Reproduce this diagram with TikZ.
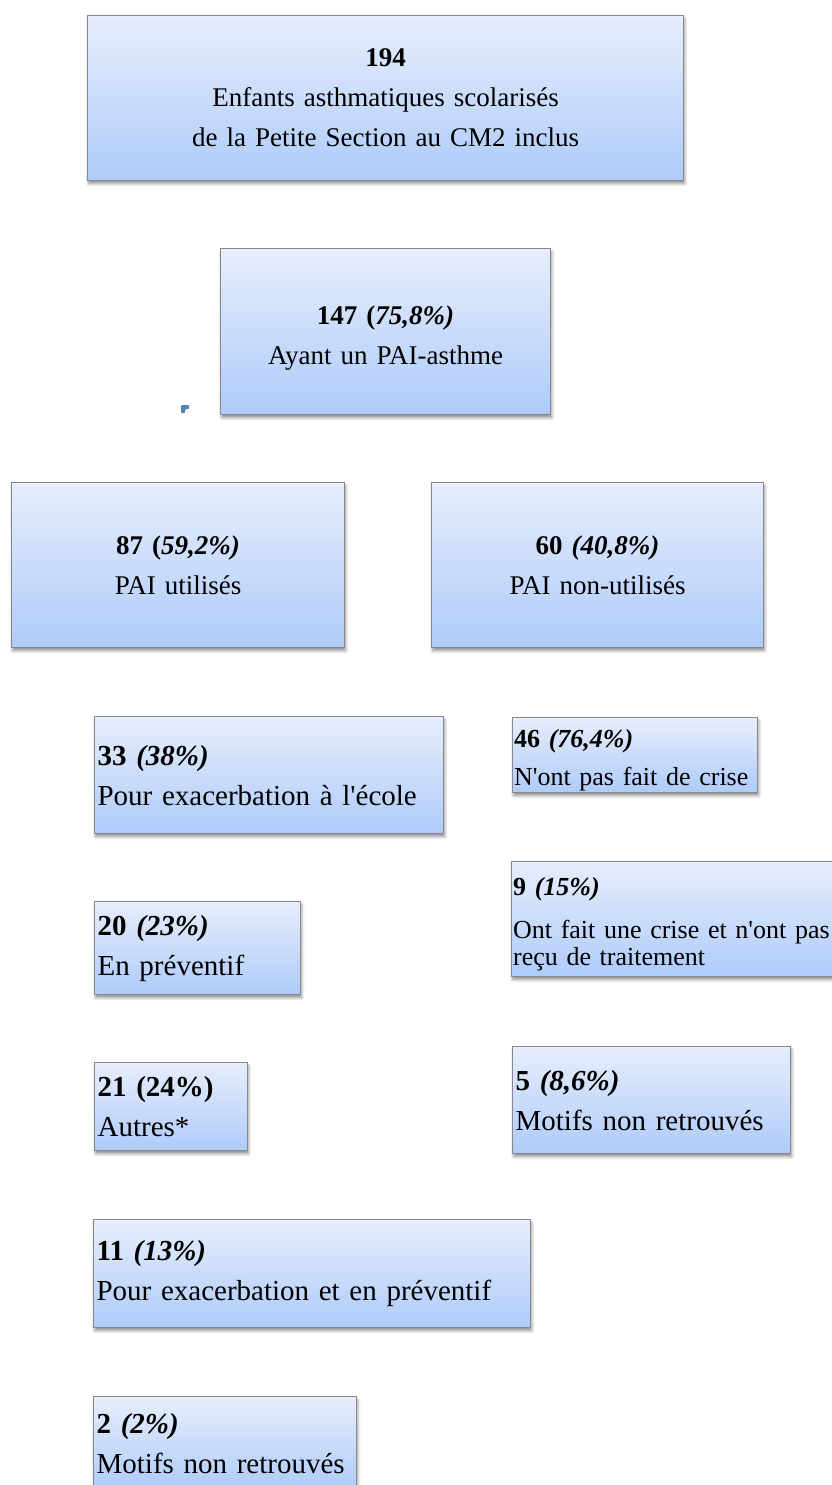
\documentclass[tikz,border=0pt]{standalone}
\usepackage{fontspec}
\setmainfont{Liberation Serif}
\usepackage{tikz}
\usetikzlibrary{shadows.blur}

\definecolor{boxtop}{RGB}{231,238,252}
\definecolor{boxbot}{RGB}{174,203,250}
\definecolor{boxline}{RGB}{135,135,140}
\definecolor{markblue}{RGB}{79,129,189}

\begin{document}
\begin{tikzpicture}[x=1pt, y=-1pt,
    box/.style={draw=boxline, line width=1.2pt, top color=boxtop, bottom color=boxbot,
        blur shadow={shadow xshift=1pt, shadow yshift=-3pt, shadow blur radius=3pt, shadow opacity=45},
        anchor=north west, inner xsep=3pt, inner ysep=0pt},
    headbox/.style={box, align=center, font=\fontsize{27}{40}\selectfont},
    subbox/.style={box, align=left, font=\fontsize{29}{40}\selectfont}]
    \useasboundingbox (0,0) rectangle (832,1485);

    % Top of the flow
    \node[headbox, text width=590pt, minimum height=165pt] (total) at (87,15)
        {\textbf{194}\\Enfants asthmatiques scolarisés\\de la Petite Section au CM2 inclus};
    \node[headbox, text width=324pt, minimum height=166pt, text depth=32pt] (pai) at (220,248)
        {\textbf{147 (\textit{75,8\%)}}\\Ayant un PAI-asthme};
    \fill[markblue, rounded corners=1pt] (181,405) -- (189,405) -- (189,409) -- (185,409) -- (185,413) -- (181,413) -- cycle;

    % Used / not used
    \node[headbox, text width=327pt, minimum height=165pt] (used) at (11,482)
        {\textbf{87 (\textit{59,2\%)}}\\PAI utilisés};
    \node[headbox, text width=326pt, minimum height=165pt] (unused) at (431,482)
        {\textbf{60 \textit{(40,8\%)}}\\PAI non-utilisés};

    % Left column: PAI used
    \node[subbox, text width=343pt, minimum height=117pt] (exac) at (94,716)
        {\textbf{33 \textit{(38\%)}}\\Pour exacerbation à l\textquotesingle école};
    \node[subbox, text width=200pt, minimum height=93pt] (prev) at (94,901)
        {\textbf{20 \textit{(23\%)}}\\En préventif};
    \node[subbox, text width=147pt, minimum height=88pt] (other) at (94,1062)
        {\textbf{21 (24\%)}\\Autres*};
    \node[subbox, text width=431pt, minimum height=108pt] (both) at (93,1219)
        {\textbf{11 \textit{(13\%)}}\\Pour exacerbation et en préventif};
    \node[subbox, text width=257pt, minimum height=94pt] (lost) at (93,1396)
        {\textbf{2 \textit{(2\%)}}\\Motifs non retrouvés};

    % Right column: PAI not used
    \node[subbox, font=\fontsize{26}{38}\selectfont, inner xsep=1.5pt, text width=242pt, minimum height=75pt, text depth=34pt] (nocrise) at (512,717)
        {\textbf{46 \textit{(76,4\%)}}\\\mbox{N\textquotesingle ont pas fait de crise}};
    \node[subbox, font=\fontsize{26}{27}\selectfont, inner xsep=1.5pt, text width=326pt, minimum height=115pt, text depth=66pt] (notreat) at (511,861)
        {\textbf{9 \textit{(15\%)}}\\[16pt]\mbox{Ont fait une crise et n\textquotesingle ont pas}\\reçu de traitement};
    \node[subbox, text width=272pt, minimum height=107pt] (nomotif) at (512,1046)
        {\textbf{5 \textit{(8,6\%)}}\\Motifs non retrouvés};
\end{tikzpicture}
\end{document}
